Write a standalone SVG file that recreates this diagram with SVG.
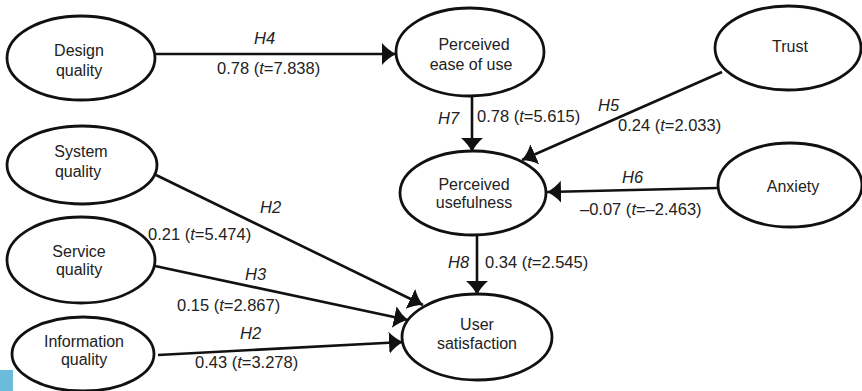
<svg xmlns="http://www.w3.org/2000/svg" width="862" height="391" viewBox="0 0 862 391">
<style>
.node ellipse{fill:#fff;stroke:#111;stroke-width:2.8}
.node text{font-family:"Liberation Sans",Arial,sans-serif;font-size:16px;fill:#222;text-anchor:middle}
.edge line{stroke:#111;stroke-width:2.6;fill:none}
.lbl{font-family:"Liberation Sans",Arial,sans-serif;font-size:16.5px;fill:#222}
.h{font-style:italic}
</style>
<defs>
<marker id="ah" markerUnits="userSpaceOnUse" markerWidth="16" markerHeight="24" refX="14" refY="11" orient="auto">
<path d="M0,0 Q6,7 14,11 Q6,15 0,22 Z" fill="#111"/>
</marker>
</defs>
<rect x="0" y="370" width="13" height="21" fill="#6bbcdc"/>
<g id="connectors" class="edge">
<line x1="155" y1="54" x2="396" y2="54" marker-end="url(#ah)"/>
<line x1="472" y1="96" x2="472" y2="152" marker-end="url(#ah)"/>
<line x1="722" y1="72" x2="522" y2="160" marker-end="url(#ah)"/>
<line x1="718" y1="188" x2="547" y2="192" marker-end="url(#ah)"/>
<line x1="477" y1="235" x2="477" y2="295" marker-end="url(#ah)"/>
<line x1="156" y1="175" x2="423" y2="305" marker-end="url(#ah)"/>
<line x1="155" y1="266" x2="408" y2="320" marker-end="url(#ah)"/>
<line x1="158" y1="355" x2="403" y2="342" marker-end="url(#ah)"/>
</g>
<g id="labels">
<text class="lbl h" x="254" y="44">H4</text>
<text class="lbl" x="217" y="74">0.78 (<tspan class="h">t</tspan>=7.838)</text>
<text class="lbl h" x="438" y="124">H7</text>
<text class="lbl" x="477" y="122">0.78 (<tspan class="h">t</tspan>=5.615)</text>
<text class="lbl h" x="598" y="111">H5</text>
<text class="lbl" x="618" y="131">0.24 (<tspan class="h">t</tspan>=2.033)</text>
<text class="lbl h" x="622" y="183">H6</text>
<text class="lbl" x="580" y="215">–0.07 (<tspan class="h">t</tspan>=–2.463)</text>
<text class="lbl h" x="260" y="213">H2</text>
<text class="lbl" x="148" y="240">0.21 (<tspan class="h">t</tspan>=5.474)</text>
<text class="lbl h" x="245" y="280">H3</text>
<text class="lbl" x="177" y="311">0.15 (<tspan class="h">t</tspan>=2.867)</text>
<text class="lbl h" x="240" y="339">H2</text>
<text class="lbl" x="195" y="368">0.43 (<tspan class="h">t</tspan>=3.278)</text>
<text class="lbl h" x="448" y="268">H8</text>
<text class="lbl" x="485" y="268">0.34 (<tspan class="h">t</tspan>=2.545)</text>
</g>
<g id="design" class="node"><ellipse cx="81" cy="58" rx="74" ry="42"/><text x="79" y="56">Design</text><text x="79" y="76">quality</text></g>
<g id="peou" class="node"><ellipse cx="470" cy="52" rx="74" ry="44"/><text x="474" y="50">Perceived</text><text x="471" y="70">ease of use</text></g>
<g id="trust" class="node"><ellipse cx="788" cy="48" rx="73" ry="42"/><text x="790" y="52">Trust</text></g>
<g id="pu" class="node"><ellipse cx="473" cy="193" rx="73" ry="42"/><text x="474" y="190">Perceived</text><text x="474" y="208">usefulness</text></g>
<g id="anxiety" class="node"><ellipse cx="790" cy="185" rx="72" ry="42"/><text x="793" y="192">Anxiety</text></g>
<g id="system" class="node"><ellipse cx="82" cy="165" rx="75" ry="39"/><text x="81" y="157">System</text><text x="78" y="177">quality</text></g>
<g id="service" class="node"><ellipse cx="81" cy="260" rx="74" ry="43"/><text x="79" y="257">Service</text><text x="79" y="275">quality</text></g>
<g id="information" class="node"><ellipse cx="83" cy="354" rx="71" ry="37"/><text x="84" y="347">Information</text><text x="84" y="365">quality</text></g>
<g id="us" class="node"><ellipse cx="477" cy="337" rx="75" ry="43"/><text x="477" y="330">User</text><text x="477" y="349">satisfaction</text></g>
</svg>
